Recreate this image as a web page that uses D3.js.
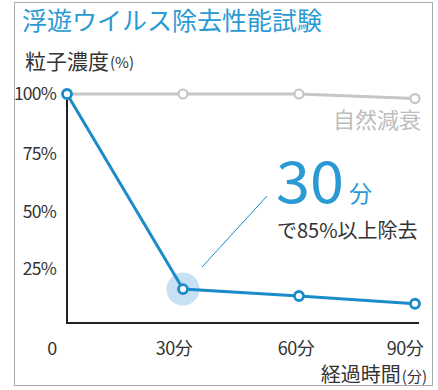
<!DOCTYPE html>
<html><head><meta charset="utf-8">
<script src="https://cdn.jsdelivr.net/npm/d3@7"></script>
<style>
html,body{margin:0;padding:0;background:#fff;}
svg{display:block;font-family:"Noto Sans CJK JP","Noto Sans",sans-serif;}
</style></head>
<body>
<svg id="c" width="438" height="390"></svg>
<script>
const title = "浮遊ウイルス除去性能試験";
const yTitle = "粒子濃度";
const xTitle = "経過時間";
const times = [0, 30, 60, 90];
const xTickLabels = ["0", "30分", "60分", "90分"];
const yTicks = [25, 50, 75, 100];
const purifier = [100, 14.8, 11.8, 8.4];
const natural = [100, 100, 100, 98];
const naturalLabel = "自然減衰";
const highlightTime = 30;
const bigNumber = "30";
const bigUnit = "分";
const subText = "で85%以上除去";

const svg = d3.select("#c");
const blue = "#1b8cc9", gray = "#c6c6c6";

svg.append("rect").attr("x",14.5).attr("y",2.5).attr("width",418).attr("height",383)
  .attr("fill","#fff").attr("stroke","#aaaaaa").attr("stroke-width",1);

svg.append("text").attr("x",22).attr("y",30).attr("font-size",25).attr("fill","#2a9ad4")
  .text(title);

const yt = svg.append("text").attr("x",25).attr("y",69).attr("font-size",21).attr("fill","#333");
yt.append("tspan").text(yTitle);
yt.append("tspan").attr("font-size",15).attr("dx",1).attr("dy",-1).text("(%)");

const x = d3.scaleLinear().domain([0,90]).range([67,415]);
const y = d3.scaleLinear().domain([0,100]).range([323,94]);

// y tick labels
svg.append("g").selectAll("text").data(yTicks).join("text")
  .attr("x",56).attr("y",d=>y(d)+ (d===100?6:9)).attr("text-anchor","end")
  .attr("font-size",17.5).attr("letter-spacing",-0.8).attr("fill","#333").text(d=>d+"%");

// x tick labels
const xLabelShift = [-15, -9, -3, -10];
svg.append("g").selectAll("text").data(times).join("text")
  .attr("x",(d,i)=> x(d) + xLabelShift[i])
  .attr("y",355).attr("text-anchor","middle")
  .attr("font-size",18).attr("letter-spacing",-0.5).attr("fill","#333")
  .text((d,i)=>xTickLabels[i]);

const xt = svg.append("text").attr("x",427).attr("y",382).attr("text-anchor","end").attr("font-size",20).attr("fill","#333");
xt.append("tspan").text(xTitle);
xt.append("tspan").attr("font-size",15).attr("dx",1).text("(分)");

// axes
svg.append("line").attr("x1",x(0)).attr("x2",x(0)).attr("y1",y(100)).attr("y2",y(0)+1)
  .attr("stroke","#222").attr("stroke-width",2);
svg.append("line").attr("x1",x(0)-1).attr("x2",419).attr("y1",y(0)).attr("y2",y(0))
  .attr("stroke","#222").attr("stroke-width",2);

// highlight
svg.append("circle").attr("cx",x(highlightTime)).attr("cy",y(purifier[1])).attr("r",16.5)
  .attr("fill","#c7e1f3");

const line = d3.line().x((d,i)=>x(times[i])).y(d=>y(d));

// natural decay
svg.append("path").datum(natural).attr("d",line).attr("fill","none")
  .attr("stroke",gray).attr("stroke-width",3);
svg.append("g").selectAll("circle").data(natural).join("circle")
  .attr("cx",(d,i)=>x(times[i])).attr("cy",d=>y(d)).attr("r",4.5)
  .attr("fill","#fff").attr("stroke",gray).attr("stroke-width",2.2);

svg.append("text").attr("x",421).attr("y",128).attr("text-anchor","end").attr("font-size",22)
  .attr("fill","#bdbdbd").text(naturalLabel);

// purifier
svg.append("path").datum(purifier).attr("d",line).attr("fill","none")
  .attr("stroke",blue).attr("stroke-width",3);
svg.append("g").selectAll("circle").data(purifier).join("circle")
  .attr("cx",(d,i)=>x(times[i])).attr("cy",d=>y(d)).attr("r",4.5)
  .attr("fill","#fff").attr("stroke",blue).attr("stroke-width",2.8);

// leader line
svg.append("line").attr("x1",x(highlightTime)+19).attr("y1",y(purifier[1])-22)
  .attr("x2",267).attr("y2",196).attr("stroke",blue).attr("stroke-width",1);

// annotation
svg.append("text").attr("x",276).attr("y",203).attr("font-size",58)
  .attr("textLength",68).attr("lengthAdjust","spacingAndGlyphs")
  .attr("fill","#2a9ad4").text(bigNumber);
svg.append("text").attr("x",349).attr("y",202).attr("font-size",23).attr("fill","#2a9ad4").text(bigUnit);
svg.append("text").attr("x",277).attr("y",238).attr("font-size",20).attr("fill","#333").text(subText);
</script>
</body></html>
